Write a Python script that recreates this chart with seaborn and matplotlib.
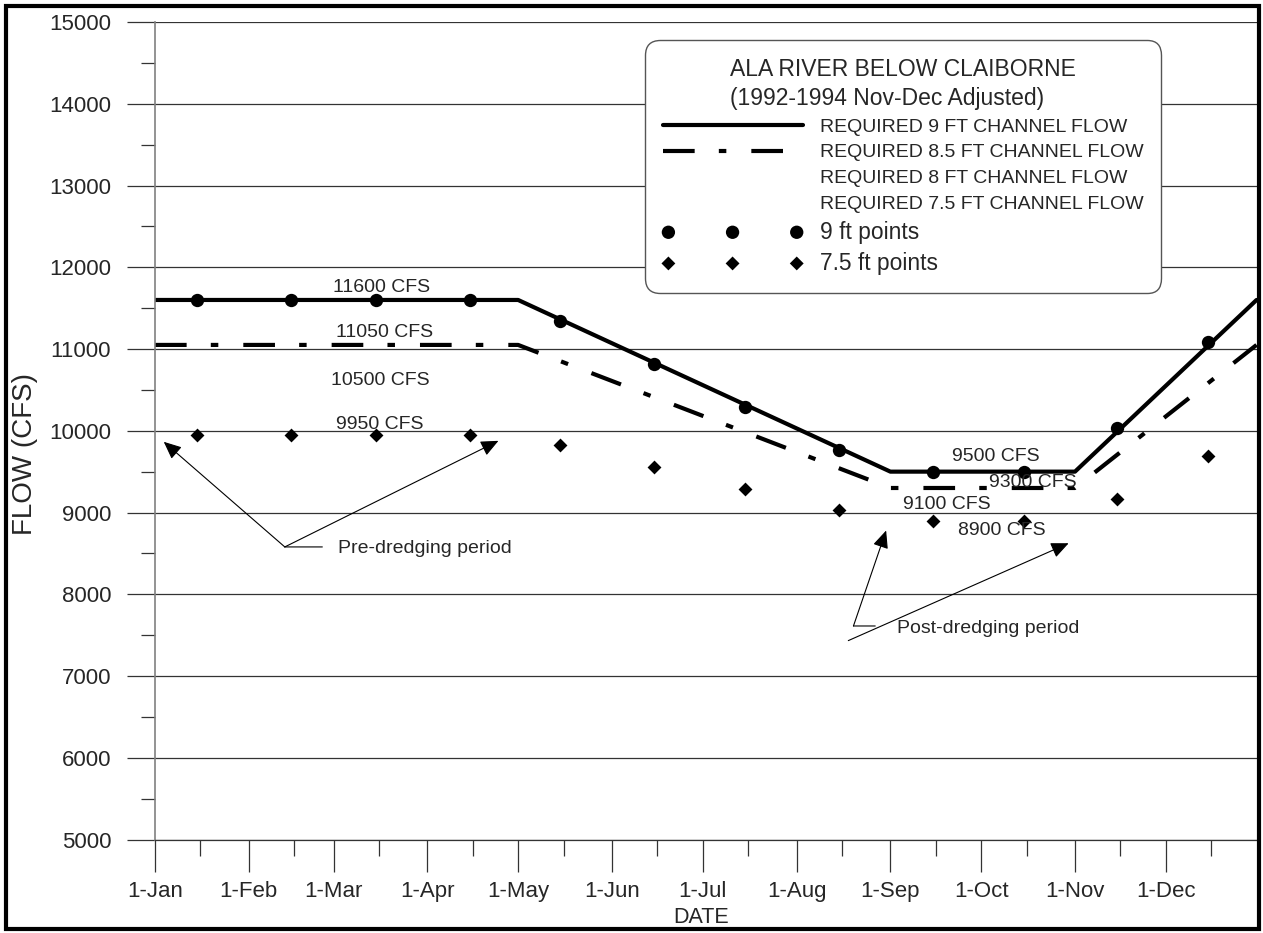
import pandas as pd
import matplotlib
matplotlib.use('Agg')
import matplotlib.pyplot as plt
import matplotlib.dates as mdates
from matplotlib.lines import Line2D
from matplotlib.patches import Rectangle
import seaborn as sns

# Required channel flow lines (break points)
line_dates = ['1993-01-01', '1993-05-01', '1993-09-01', '1993-11-01', '1993-12-31']
flow_9ft = [11600, 11600, 9500, 9500, 11600]
flow_85ft = [11050, 11050, 9300, 9300, 11050]

# Mid-month points
point_dates = ['1993-01-15', '1993-02-15', '1993-03-15', '1993-04-15', '1993-05-15', '1993-06-15',
               '1993-07-15', '1993-08-15', '1993-09-15', '1993-10-15', '1993-11-15', '1993-12-15']
points_9ft = [11600, 11600, 11600, 11600, 11345, 10815, 10295, 9765, 9500, 9500, 10030, 11090]
points_75ft = [9950, 9950, 9950, 9950, 9825, 9560, 9290, 9025, 8895, 8900, 9160, 9695]

month_ticks = ['1993-01-01', '1993-02-01', '1993-03-01', '1993-04-01', '1993-05-01', '1993-06-01',
               '1993-07-01', '1993-08-01', '1993-09-01', '1993-10-01', '1993-11-01', '1993-12-01']
month_labels = ['1-Jan', '1-Feb', '1-Mar', '1-Apr', '1-May', '1-Jun',
                '1-Jul', '1-Aug', '1-Sep', '1-Oct', '1-Nov', '1-Dec']

lines_df = pd.DataFrame({'date': pd.to_datetime(line_dates), 'ft9': flow_9ft, 'ft85': flow_85ft})
pts_df = pd.DataFrame({'date': pd.to_datetime(point_dates), 'ft9': points_9ft, 'ft75': points_75ft})

sns.set_style('white')
plt.rcParams['font.family'] = ['Liberation Sans', 'DejaVu Sans']

fig, ax = plt.subplots(figsize=(12.63, 9.33), dpi=100)
fig.subplots_adjust(left=0.1227, right=0.9949, bottom=0.1002, top=0.9764)

sns.lineplot(data=lines_df, x='date', y='ft9', color='black', lw=3, ax=ax,
             label='REQUIRED 9 FT CHANNEL FLOW')
sns.lineplot(data=lines_df, x='date', y='ft85', color='black', lw=3, ax=ax,
             label='REQUIRED 8.5 FT CHANNEL FLOW')
ax.lines[-1].set_linestyle((0, (7.6, 5.8, 1.8, 6.0)))

sns.scatterplot(data=pts_df, x='date', y='ft9', marker='o', s=92, color='black',
                edgecolor='black', linewidth=0, ax=ax, label='9 ft points', zorder=3)
sns.scatterplot(data=pts_df, x='date', y='ft75', marker='D', s=50, color='black',
                edgecolor='black', linewidth=0, ax=ax, label='7.5 ft points', zorder=3)

# axes
ax.set_xlim(pd.Timestamp('1993-01-01'), pd.Timestamp('1993-12-31'))
ax.set_ylim(5000, 15000)
ax.set_yticks(range(5000, 15001, 1000))
ax.set_yticks(range(5500, 15000, 1000), minor=True)
ax.set_xticks(pd.to_datetime(month_ticks), month_labels)
ax.set_xticks(pd.to_datetime(month_ticks) + pd.Timedelta(days=15), minor=True)
ax.tick_params(which='both', bottom=True, left=True, direction='out')
ax.tick_params(axis='y', which='major', length=20, width=0.9, color='#333333', pad=11.5, labelsize=16)
ax.tick_params(axis='y', which='minor', length=10, width=0.9, color='#333333')
ax.tick_params(axis='x', which='major', length=23, width=0.9, color='#333333', pad=7, labelsize=16)
ax.tick_params(axis='x', which='minor', length=11.5, width=0.9, color='#333333')
ax.yaxis.grid(True, which='major', color='#333333', lw=0.9)
ax.xaxis.grid(False)
for s in ['top', 'right']:
    ax.spines[s].set_visible(False)
ax.spines['left'].set_color('#808080')
ax.spines['left'].set_linewidth(1.2)
ax.spines['bottom'].set_color('#333333')
ax.spines['bottom'].set_linewidth(0.9)

ax.set_xlabel('DATE', fontsize=15.5)
ax.set_ylabel('FLOW (CFS)', fontsize=20)
ax.xaxis.set_label_coords(0.496, -0.0825)
ax.yaxis.set_label_coords(-0.106, 0.472)

# flow labels
base = mdates.date2num(pd.Timestamp('1993-01-01'))
flow_text = [('11600 CFS', 75, 11758), ('11050 CFS', 75.8, 11196), ('10500 CFS', 74.5, 10609),
             ('9950 CFS', 74.4, 10076), ('9500 CFS', 278, 9685), ('9300 CFS', 290, 9367),
             ('9100 CFS', 261.5, 9098), ('8900 CFS', 279.7, 8780)]
for txt, d, v in flow_text:
    ax.text(base + d, v, txt, ha='center', va='center', fontsize=14)

ax.text(base + 60.5, 8554, 'Pre-dredging period', ha='left', va='center', fontsize=14)
ax.text(base + 245.3, 7581, 'Post-dredging period', ha='left', va='center', fontsize=14)

arrow = dict(arrowstyle='-|>,head_length=0.45,head_width=0.2', color='black', lw=0.8,
             mutation_scale=24, shrinkA=0, shrinkB=0)
plain = dict(arrowstyle='-', color='black', lw=0.8, shrinkA=0, shrinkB=0)
# pre-dredging
ax.annotate('', xy=(base + 2.9, 9865), xytext=(base + 42.9, 8579), arrowprops=arrow)
ax.annotate('', xy=(base + 113.5, 9877), xytext=(base + 42.9, 8579), arrowprops=arrow)
ax.annotate('', xy=(base + 55.3, 8579), xytext=(base + 42.9, 8579), arrowprops=plain)
# post-dredging
ax.annotate('', xy=(base + 241.6, 8780), xytext=(base + 230.8, 7612), arrowprops=arrow)
ax.annotate('', xy=(base + 301.9, 8624), xytext=(base + 229.1, 7433), arrowprops=arrow)
ax.annotate('', xy=(base + 238, 7612), xytext=(base + 230.8, 7612), arrowprops=plain)

# legend
h, l = ax.get_legend_handles_labels()
blank = Line2D([], [], color='none')
handles = [h[0], h[1], blank, blank, h[2], h[3]]
labels = [l[0], l[1], 'REQUIRED 8 FT CHANNEL FLOW', 'REQUIRED 7.5 FT CHANNEL FLOW', l[2], l[3]]
leg = ax.legend(handles, labels, title='ALA RIVER BELOW CLAIBORNE\n(1992-1994 Nov-Dec Adjusted)',
                loc='upper left', bbox_to_anchor=(0.4449, 0.978), borderaxespad=0,
                fontsize=14, title_fontsize=16.5, handlelength=7.2, handletextpad=0.9,
                scatterpoints=3, scatteryoffsets=[0.5], labelspacing=0.42, borderpad=0.9,
                frameon=True, fancybox=True, edgecolor='#555555', framealpha=1)
leg.get_title().set_linespacing(1.35)
leg.get_frame().set_linewidth(1)
leg.get_frame().set_boxstyle('round', pad=0, rounding_size=0.75)
for t in leg.get_texts()[4:]:
    t.set_fontsize(16.4)

# outer border
fig.patches.append(Rectangle((0.005, 0.004), 0.992, 0.99, transform=fig.transFigure,
                             fill=False, lw=3, edgecolor='black'))

fig.savefig('out.png', dpi=100)
